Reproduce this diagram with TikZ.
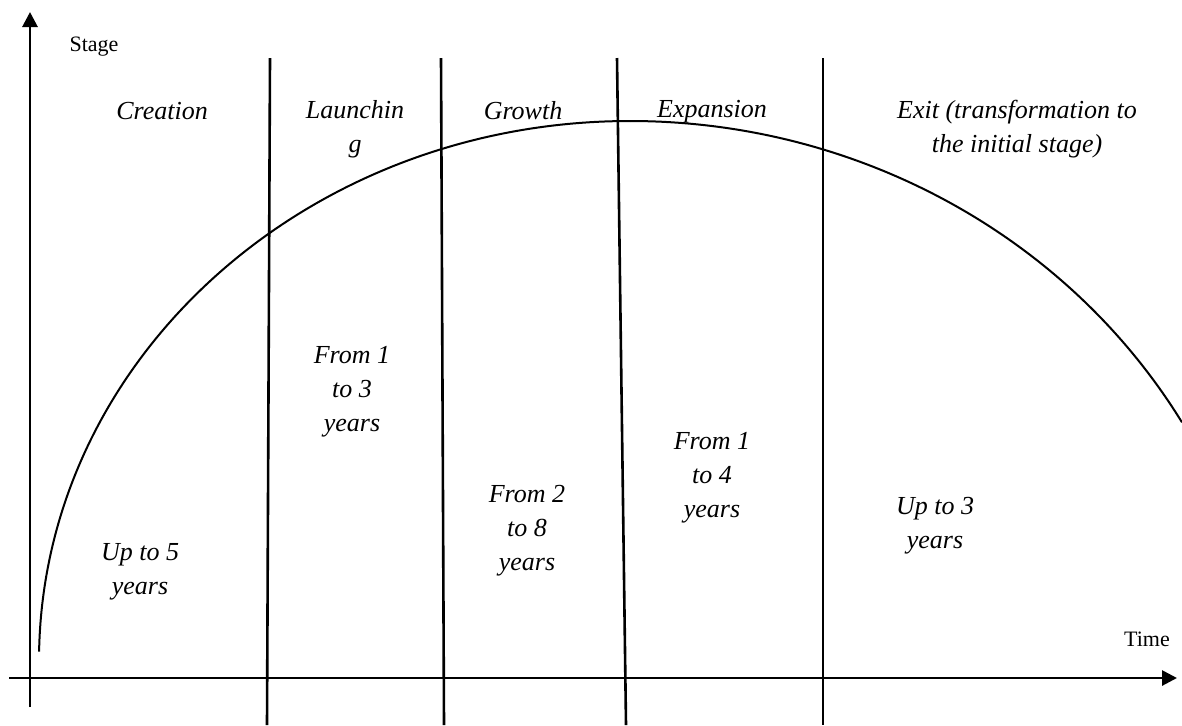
\documentclass[tikz,border=0pt]{standalone}
\usepackage{fontspec}
\setmainfont{Liberation Serif}
\usetikzlibrary{arrows.meta}

\begin{document}
\begin{tikzpicture}[x=0.5pt,y=-0.5pt,
  every node/.style={inner sep=0pt, outer sep=0pt, align=center, font=\fontsize{13}{17}\selectfont\itshape},
  axislabel/.style={font=\fontsize{11}{13}\selectfont},
  axis/.style={line width=1.4pt, -{Triangle[length=7.5pt,width=7.5pt]}},
  divider/.style={line width=1.3pt}]
\useasboundingbox (0,0) rectangle (1182,725);
% axes
\coordinate (y-start) at (30,707);
\coordinate (y-end) at (30,12);
\coordinate (x-start) at (9,678);
\coordinate (x-end) at (1177,678);
\draw[axis] (y-start) -- (y-end);
\draw[axis] (x-start) -- (x-end);
\node[axislabel] (stage) at (94,47) {Stage};
\node[axislabel] (time) at (1147,639) {Time};
% stage borders
\coordinate (b1-top) at (270,58);
\coordinate (b1-bot) at (267,725);
\coordinate (b2-top) at (441,58);
\coordinate (b2-bot) at (444,725);
\coordinate (b3-top) at (617,58);
\coordinate (b3-bot) at (626,725);
\coordinate (b4-top) at (823,58);
\coordinate (b4-bot) at (823,725);
\draw[divider] (b1-top) -- (b1-bot);
\draw[divider] (b2-top) -- (b2-bot);
\draw[divider] (b3-top) -- (b3-bot);
\draw[divider] (b4-top) -- (b4-bot);
% life cycle curve, two elliptic arcs from the peak
\coordinate (peak) at (630,121);
\draw[line width=1pt] (peak) arc[start angle=90, end angle=179, x radius=295.5pt, y radius=270pt];
\draw[line width=1pt] (peak) arc[start angle=90, end angle=30.4, x radius=320pt, y radius=305pt];
% stage names
\node (creation) at (162,111) {Creation};
\node (launching) at (355,129) {Launchin\\g};
\node (growth) at (523,111) {Growth};
\node (expansion) at (712,112) {Expansion};
\node (exit) at (1017,129) {Exit (transformation to\\the initial stage)};
% durations
\node (creation-time) at (140,572) {Up to 5\\years};
\node (launching-time) at (352,392) {From 1\\to 3\\years};
\node (growth-time) at (527,531) {From 2\\to 8\\years};
\node (expansion-time) at (712,478) {From 1\\to 4\\years};
\node (exit-time) at (935,526) {Up to 3\\years};
\end{tikzpicture}
\end{document}
